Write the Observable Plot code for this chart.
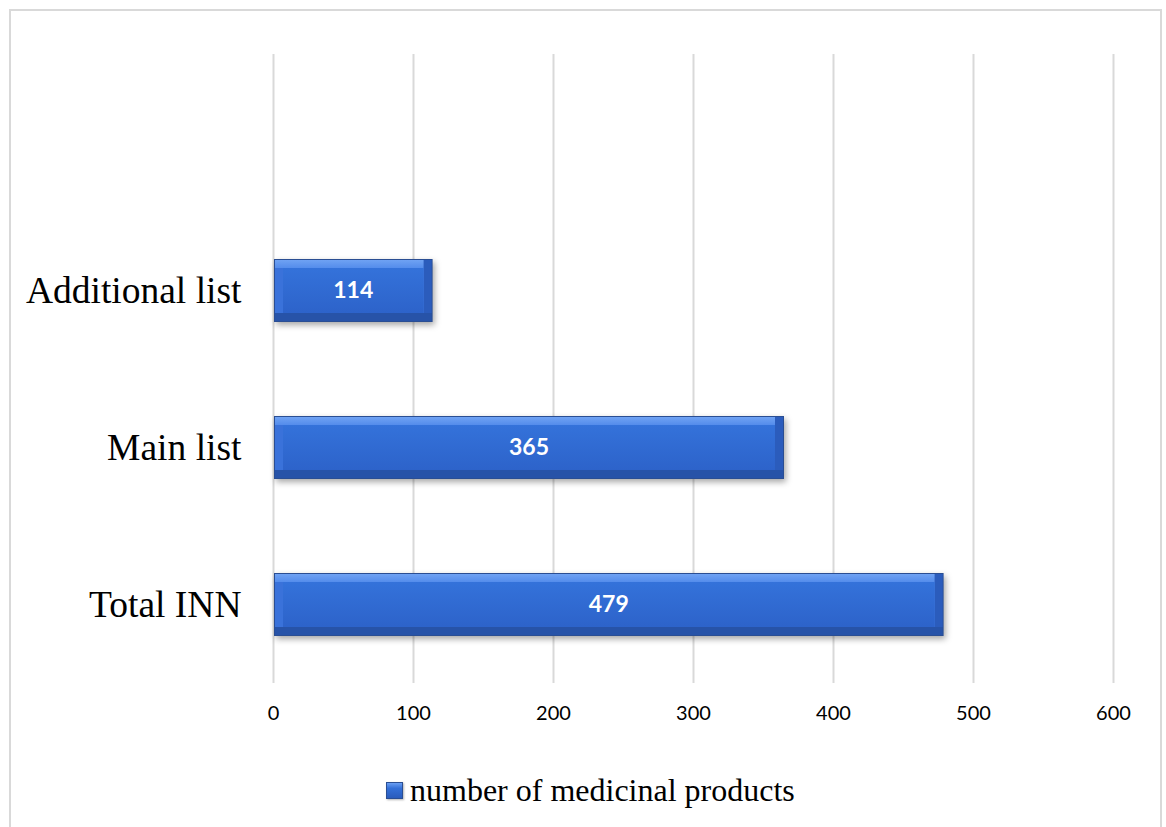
<!DOCTYPE html>
<html><head><meta charset="utf-8">
<script src="https://cdn.jsdelivr.net/npm/d3@7"></script>
<script src="https://cdn.jsdelivr.net/npm/@observablehq/plot@0.6"></script>
<style>
body{margin:0;background:#fff;}
#wrap{position:relative;width:1166px;height:827px;overflow:hidden;background:#fff}
#frame{position:absolute;left:9px;top:9px;width:1153px;height:840px;border:2px solid #d9d9d9;box-sizing:border-box}
#chart{position:absolute;left:0;top:0}
#legend{position:absolute;left:386px;top:772px;display:flex;align-items:center;font-family:"Liberation Serif","Times New Roman",serif;font-size:32px;color:#000}
#legend .sw{width:17px;height:17px;margin-right:7px;box-sizing:border-box;border:1px solid #2a4e93;background:linear-gradient(#6a9ef2,#3470d8 35%,#2a5cbc);box-shadow:1px 1px 2px rgba(0,0,0,0.3)}
</style></head>
<body>
<div id="wrap"><div id="frame"></div><div id="chart"></div>
<div id="legend"><div class="sw"></div><span>number of medicinal products</span></div></div>
<script>
const categories = ["Additional list", "Main list", "Total INN"];
const values = [114, 365, 479];
const xTicks = [0, 100, 200, 300, 400, 500, 600];
const data = categories.map((c, i) => ({category: c, value: values[i]}));
const b = 8;
const chart = Plot.plot({
  width: 1166, height: 760,
  marginLeft: 273, marginRight: 53, marginTop: 54, marginBottom: 77,
  style: {background: "transparent", color: "#000"},
  x: {domain: [0, 600]},
  y: {domain: categories, range: [211.5, 682.5], paddingInner: 0.6, paddingOuter: 0.3},
  marks: [
    Plot.gridX(xTicks, {stroke: "#d9d9d9", strokeOpacity: 1, strokeWidth: 2}),
    Plot.barX(data, {x: "value", y: "category", fill: "#2a4e93", insetLeft: 1}),
    Plot.barX(data, {x: "value", y: "category", fill: "#2753a8", insetLeft: 2, inset: 1}),
    Plot.barX(data, {x: "value", y: "category", fill: "#2b5cbc", insetLeft: 2, insetTop: 1, insetRight: 1, insetBottom: b + 1}),
    Plot.barX(data, {x: "value", y: "category", fill: "#5088e8", insetLeft: 2, insetTop: 1, insetRight: b + 1, insetBottom: b + 1}),
    Plot.barX(data, {x: "value", y: "category", fill: "#3a72da", insetLeft: 2, insetTop: b + 1, insetRight: b + 1, insetBottom: b + 1}),
    Plot.barX(data, {x: "value", y: "category", fill: "#3169d2", insetLeft: b + 2, insetTop: b + 1, insetRight: b + 1, insetBottom: b + 1}),
    Plot.text(data, {x: d => d.value / 2, y: "category", text: d => String(d.value), fill: "#fff", fontWeight: "bold", fontSize: 23, fontFamily: "Lato"}),
    Plot.axisX(xTicks, {tickSize: 0, tickPadding: 22, fontSize: 20, fontFamily: "Lato", label: null}),
    Plot.axisY({tickSize: 0, tickPadding: 32, fontSize: 37.5, fontFamily: "Liberation Serif", label: null})
  ]
});
document.getElementById("chart").appendChild(chart);
// gradients for the bevel look
const ns = "http://www.w3.org/2000/svg";
const defs = document.createElementNS(ns, "defs");
defs.innerHTML =
  '<linearGradient id="gTop" x1="0" y1="0" x2="0" y2="1"><stop offset="0" stop-color="#6fa2f3"/><stop offset="0.18" stop-color="#4f88ea"/><stop offset="1" stop-color="#3a74de"/></linearGradient>' +
  '<linearGradient id="gFace" x1="0" y1="0" x2="0" y2="1"><stop offset="0" stop-color="#3472da"/><stop offset="1" stop-color="#2d63ca"/></linearGradient>';
chart.insertBefore(defs, chart.firstChild);
const bars = chart.querySelectorAll('g[aria-label="bar"]');
if (bars.length >= 6) {
  bars[0].style.filter = "drop-shadow(2px 3px 3px rgba(0,0,0,0.35))";
  bars[3].setAttribute("fill", "url(#gTop)");
  bars[5].setAttribute("fill", "url(#gFace)");
}
</script>
</body></html>
